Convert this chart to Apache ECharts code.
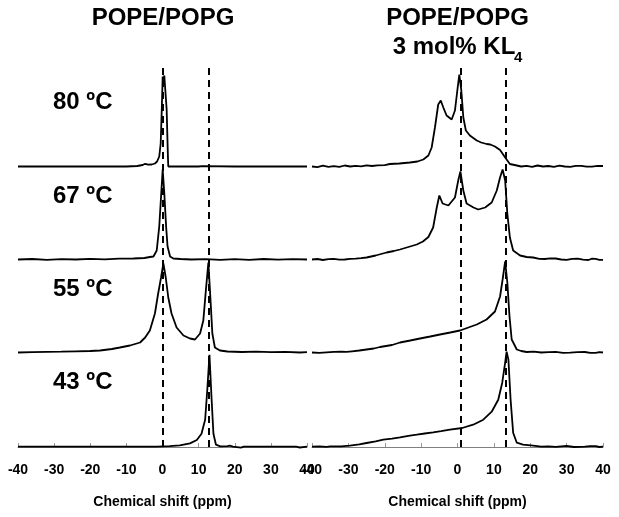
<!DOCTYPE html>
<html>
<head>
<meta charset="utf-8">
<script src="https://cdn.jsdelivr.net/npm/echarts@6/dist/echarts.min.js"></script>
<style>
  html, body { margin: 0; padding: 0; background: #fff; }
  #chart { width: 619px; height: 517px; }
</style>
</head>
<body>
<div id="chart"></div>
<script>
// chemical shift range (ppm)
const ppmMin = -40
const ppmMax = 40
const ppmStep = 10

const temps = ['80 ºC', '67 ºC', '55 ºC', '43 ºC']
const titleLeft = 'POPE/POPG'
const titleRight = ['POPE/POPG', '3 mol% KL', '4']
const axisTitle = 'Chemical shift (ppm)'

// reference positions (dashed lines), ppm
const leftDashes = [0.2, 12.8]
const rightDashes = [0.9, 13.4]

// POPE/POPG spectra: [ppm, intensity]
const lp80 = [[-40,0],[-30,0],[-20,0],[-10,0],[-7,0.5],[-5.5,1.5],[-4.8,2.7],[-4,1.8],[-3,2],[-2.1,3],[-1.5,5],[-0.9,10],[-0.5,23],[-0.2,57],[0.05,90],[0.3,87],[0.5,91],[0.7,89],[1.15,57],[1.5,10],[1.6,0],[5,0],[10,0],[11,0.4],[11.2,1.5],[11.5,0],[20,0],[30,0],[40,0]]
const lp67 = [[-40,0],[-36,0.5],[-32,-0.3],[-28,0.4],[-24,0],[-20,0.6],[-16,0.2],[-12,0.8],[-8,1],[-5,1.5],[-3.5,2.5],[-2.5,3],[-1.6,9],[-0.9,33],[-0.4,63],[0.05,90],[0.5,66],[1.0,33],[1.4,13],[2.1,3],[3,1],[5,0.5],[8,0],[12,0.3],[16,-0.4],[20,0.3],[24,-0.3],[28,0.5],[32,-0.2],[36,0.4],[40,0]]
const lp55 = [[-40,0],[-36,0.3],[-32,0.6],[-28,0.8],[-24,1.2],[-20,1.5],[-17.3,2],[-14,3.5],[-11.8,5],[-9,7],[-6.2,10],[-4.8,15],[-3.5,22],[-2.1,39],[-1.2,59],[-0.4,75],[0.24,89],[0.9,75],[1.6,55],[2.5,39],[3.9,25],[5.8,17],[7.6,14],[9.0,13],[10.4,19],[11.3,32],[12.0,62],[12.7,90],[13.3,52],[13.8,19],[14.5,5],[15.9,2],[18,1],[22,0.5],[26,0.8],[30,0.3],[34,0.6],[38,0],[40,0.3]]
const lp43 = [[-40,0],[-30,0],[-20,0],[-10,0],[-1.6,0],[2,0.5],[4.8,1.3],[7.6,3.3],[9.5,6.7],[10.8,13],[11.8,27],[12.4,57],[13.0,92],[13.6,47],[14.1,13],[14.8,2],[16,0.3],[18,0.5],[18.6,1],[19.5,0],[21.7,-1],[22.5,0],[30,0],[37,0],[38,-0.8],[40,0]]

// POPE/POPG + 3 mol% KL4 spectra
const rp80 = [[-40,0],[-38.5,-0.6],[-37,0.8],[-35.5,-0.3],[-34,0.4],[-32.5,-0.4],[-31,1],[-29.5,0],[-28,0.6],[-26.5,0.1],[-25,1.2],[-23.5,0.5],[-22,1.2],[-20,1.4],[-18.6,2.5],[-16,3],[-13.1,4],[-11,5],[-9.4,7],[-8,11],[-7.1,19],[-6.2,39],[-5.3,62],[-4.6,66],[-3.9,59],[-3,51],[-1.6,47],[-0.7,56],[0.05,79],[0.5,92],[1.05,76],[1.6,49],[2.3,36],[3.4,31],[5.3,26],[6.5,24],[8,22.5],[9,22],[10.3,20],[11.7,16.5],[13.1,9],[14.4,2.5],[16.3,1],[17.5,0],[19,0.6],[20.5,-0.3],[22,1],[23.5,0],[25,0.5],[26.5,-0.4],[28,0.8],[29.5,0],[31,-0.3],[32.5,0.6],[34,0.7],[35.5,-0.2],[37,-0.2],[38.5,0.6],[40,0.5]]
const rp67 = [[-40,0],[-38.5,0.5],[-37,-0.5],[-35.5,0.4],[-34,0.6],[-32.5,-0.2],[-31,0],[-29.5,0.7],[-28,0.8],[-26.5,1.3],[-25,2],[-22.5,4],[-19.5,7],[-17.5,8.5],[-15.8,10],[-13.5,12.5],[-11.2,15],[-9.5,18],[-8,22.5],[-6.7,32],[-5.7,52],[-5,64],[-4.1,56],[-2.5,54],[-0.7,62],[0.2,79],[0.8,88],[1.6,69],[2.5,56],[4.4,52],[5.7,50],[7.6,52],[9.4,57],[10.8,69],[11.7,82],[12.4,90],[13.1,79],[13.7,46],[14.4,22],[15.3,9],[17.2,4],[19,2.5],[20.8,2],[22.5,0.6],[24,0.5],[25.5,1.2],[27,1],[28.5,0],[30,-0.3],[31.5,0.7],[33,0.8],[34.5,-0.2],[36,-0.5],[37,0.8],[38,0.6],[39,-0.4],[40,-0.3]]
const rp55 = [[-40,0],[-38,-0.4],[-36,0.2],[-34,0.6],[-32,0.8],[-30.5,0.6],[-29,1.2],[-27,2],[-25,3],[-23,4],[-21.3,5.5],[-18,7.5],[-15.8,10],[-13,12],[-10.3,14],[-7.5,16],[-4.8,18],[-2,20],[0.7,22],[3,25],[5.3,28],[8,33],[10.3,41],[11.7,56],[12.4,73],[13.1,91],[13.7,70],[14.3,36],[14.9,13],[16.3,3],[17.5,1.5],[19,0.5],[21,0.9],[23,0],[25,0.3],[27,0.6],[29,-0.4],[31,-0.2],[33,0.4],[35,0.5],[36.5,-0.4],[38,-0.3],[39,0.4],[40,0]]
const rp43 = [[-40,0],[-38,0.4],[-36,-0.2],[-35,0.3],[-32,0.4],[-29.6,1],[-27,2.3],[-25,3.7],[-22.5,5.3],[-20.4,7],[-18,8],[-15.8,9.3],[-13.5,10.8],[-11.2,12],[-9,13.2],[-6.7,14.3],[-4.5,15.5],[-2.1,17],[1.3,18.7],[4.3,22],[7.1,27],[9.4,35],[11.2,47],[12.3,64],[13.1,84],[13.5,95],[14,87],[14.6,47],[15.3,14],[16.3,4],[18,2],[20.8,1],[23,0],[25,0.3],[27,-0.2],[30,0.8],[32,-0.3],[35,0],[36.5,0.6],[38,0.5],[39,-0.3],[40,0]]

const font = '"Liberation Sans", Arial, sans-serif'

const panels = [
  { left: 18, width: 289, dashes: leftDashes, spectra: [lp80, lp67, lp55, lp43] },
  { left: 312, width: 291, dashes: rightDashes, spectra: [rp80, rp67, rp55, rp43] },
]
// pixel y of each spectrum's baseline
const baselines = [166.5, 259.5, 352.5, 446.7]
const labelY = [102.5, 196, 289, 382.5]

const grid = []
const xAxis = []
const yAxis = []
const series = []

panels.forEach(p => {
  // panel grid: shows the ppm axis and the dashed reference lines
  const gi = grid.length
  grid.push({ left: p.left, width: p.width, top: 64, height: 383 })
  xAxis.push({
    gridIndex: gi, type: 'value', min: ppmMin, max: ppmMax, interval: ppmStep,
    splitLine: { show: false },
    axisLine: { lineStyle: { color: '#808080', width: 1 } },
    axisTick: { inside: true, length: 4, lineStyle: { color: '#999' } },
    axisLabel: { color: '#000', fontSize: 14, fontWeight: 'bold', fontFamily: font, margin: 16 },
    name: axisTitle, nameLocation: 'middle', nameGap: 48,
    nameTextStyle: { color: '#000', fontSize: 14, fontWeight: 'bold', fontFamily: font },
  })
  yAxis.push({ gridIndex: gi, type: 'value', min: 0, max: 1, show: false })
  series.push({
    type: 'line', xAxisIndex: gi, yAxisIndex: gi, data: [],
    markLine: {
      silent: true, symbol: ['none', 'none'], label: { show: false },
      lineStyle: { type: [7, 5], width: 2, color: '#000' },
      data: p.dashes.map(v => ({ xAxis: v })),
    },
  })

  // one grid per spectrum, stacked by baseline
  p.spectra.forEach((d, i) => {
    const si = grid.length
    grid.push({ left: p.left, width: p.width, top: baselines[i] - 100, height: 100 })
    xAxis.push({ gridIndex: si, type: 'value', min: ppmMin, max: ppmMax, show: false })
    yAxis.push({ gridIndex: si, type: 'value', min: 0, max: 100, show: false })
    series.push({
      type: 'line', xAxisIndex: si, yAxisIndex: si, data: d,
      showSymbol: false, clip: false, z: 3,
      lineStyle: { color: '#000', width: 1.8 },
    })
  })
})

const graphic = [
  { type: 'text', x: 163, y: 18.5, style: { text: titleLeft, font: 'bold 24px ' + font, fill: '#000', align: 'center', verticalAlign: 'middle' } },
  { type: 'text', x: 457.5, y: 18.5, style: { text: titleRight[0], font: 'bold 24px ' + font, fill: '#000', align: 'center', verticalAlign: 'middle' } },
  { type: 'text', x: 454, y: 47, style: { text: titleRight[1], font: 'bold 24px ' + font, fill: '#000', align: 'center', verticalAlign: 'middle' } },
  { type: 'text', x: 514, y: 58, style: { text: titleRight[2], font: 'bold 15px ' + font, fill: '#000', align: 'left', verticalAlign: 'middle' } },
]
temps.forEach((t, i) => {
  graphic.push({ type: 'text', x: 53, y: labelY[i], style: { text: t, font: 'bold 24px ' + font, fill: '#000', align: 'left', verticalAlign: 'middle' } })
})

const chart = echarts.init(document.getElementById('chart'))
chart.setOption({
  animation: false,
  backgroundColor: '#fff',
  grid, xAxis, yAxis, series, graphic,
})
</script>
</body>
</html>
